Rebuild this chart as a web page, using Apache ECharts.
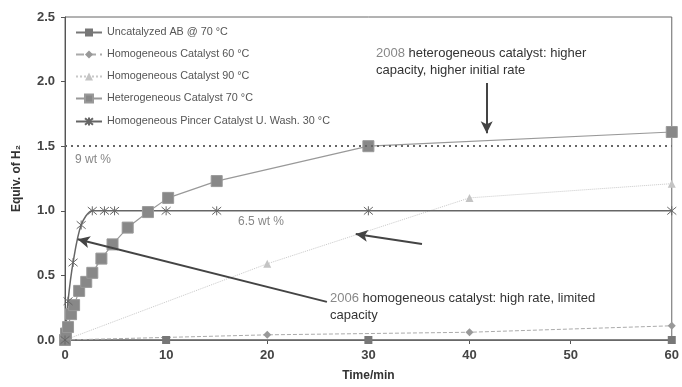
<!DOCTYPE html>
<html>
<head>
<meta charset="utf-8">
<script src="https://cdn.jsdelivr.net/npm/echarts@6/dist/echarts.min.js"></script>
<style>
html, body { margin: 0; padding: 0; background: #fff; }
#chart { width: 682px; height: 387px; }
</style>
</head>
<body>
<div id="chart"></div>
<script>
// values (time in min, equiv. H2)
var uncatalyzed = [[0, 0], [10, 0], [30, 0], [60, 0]];
var homo60 = [[0, 0], [20, 0.04], [40, 0.06], [60, 0.11]];
var homo90 = [[0, 0], [20, 0.59], [40, 1.1], [60, 1.21]];
var hetero70 = [[0, 0], [0.1, 0.05], [0.3, 0.1], [0.6, 0.2], [0.9, 0.27], [1.4, 0.38], [2.1, 0.45],
    [2.7, 0.52], [3.6, 0.63], [4.7, 0.74], [6.2, 0.87], [8.2, 0.99], [10.2, 1.1], [15, 1.23], [30, 1.5], [60, 1.61]];
var pincer30 = [[0, 0], [0.3, 0.3], [0.8, 0.6], [1.6, 0.89], [2.7, 1.0], [3.9, 1.0], [4.9, 1.0],
    [10, 1.0], [15, 1.0], [30, 1.0], [60, 1.0]];
var seriesNames = ['Uncatalyzed AB @ 70 °C', 'Homogeneous Catalyst 60 °C', 'Homogeneous Catalyst 90 °C',
    'Heterogeneous Catalyst 70 °C', 'Homogeneous Pincer Catalyst U. Wash. 30 °C'];
var capacity9 = 1.5;
// annotation arrows, [start, end] in data units
var arrows = [
    [[41.7, 1.99], [41.7, 1.6]],
    [[25.9, 0.295], [1.26, 0.78]],
    [[35.3, 0.743], [28.75, 0.82]]
];

var asterisk = 'path://M0,0L10,10M10,0L0,10M5,-1L5,11';

var dom = document.getElementById('chart');
var myChart = echarts.init(dom);

var arrowData = arrows.map(function (a) {
    return [
        { coord: a[0], symbol: 'none' },
        { coord: a[1], symbol: 'arrow', symbolSize: [9, 12] }
    ];
});

var option = {
    backgroundColor: '#fff',
    animation: false,
    grid: {
        left: 65, right: 9, top: 17, bottom: 44,
        show: true, borderColor: '#666', borderWidth: 1
    },
    legend: {
        orient: 'vertical',
        left: 70, top: 22,
        itemWidth: 26, itemHeight: 10, itemGap: 11,
        textStyle: { fontSize: 10.8, color: '#555', fontFamily: 'Liberation Sans' },
        data: seriesNames
    },
    xAxis: {
        type: 'value', min: 0, max: 60, interval: 10,
        name: 'Time/min', nameLocation: 'middle', nameGap: 30,
        nameTextStyle: { fontWeight: 'bold', fontSize: 12, color: '#333', fontFamily: 'Liberation Sans' },
        axisLine: { lineStyle: { color: '#555' } },
        axisTick: { show: true, length: 4, lineStyle: { color: '#555' } },
        axisLabel: { fontWeight: 'bold', fontSize: 13, color: '#444', fontFamily: 'Liberation Sans', margin: 9 },
        splitLine: { show: false }
    },
    yAxis: {
        type: 'value', min: 0, max: 2.5, interval: 0.5,
        name: 'Equiv. of H₂', nameLocation: 'middle', nameGap: 42,
        nameTextStyle: { fontWeight: 'bold', fontSize: 12, color: '#333', fontFamily: 'Liberation Sans' },
        axisLine: { show: true, lineStyle: { color: '#555' } },
        axisTick: { show: true, length: 4, lineStyle: { color: '#555' } },
        axisLabel: {
            fontWeight: 'bold', fontSize: 13, color: '#444', fontFamily: 'Liberation Sans', margin: 10,
            formatter: function (v) { return v.toFixed(1); }
        },
        splitLine: { show: false }
    },
    series: [
        {
            name: seriesNames[0], type: 'line', data: uncatalyzed,
            symbol: 'rect', symbolSize: 8,
            itemStyle: { color: '#777' },
            lineStyle: { color: '#777', width: 1.5 }
        },
        {
            name: seriesNames[1], type: 'line', data: homo60,
            symbol: 'diamond', symbolSize: 8,
            itemStyle: { color: '#999' },
            lineStyle: { color: '#aaa', width: 1, type: 'dashed' }
        },
        {
            name: seriesNames[2], type: 'line', data: homo90,
            symbol: 'triangle', symbolSize: 8,
            itemStyle: { color: '#c4c4c4' },
            lineStyle: { color: '#c8c8c8', width: 1, type: 'dotted' }
        },
        {
            name: seriesNames[3], type: 'line', data: hetero70,
            symbol: 'rect', symbolSize: 11,
            itemStyle: { color: '#888', borderColor: '#999', borderWidth: 1 },
            lineStyle: { color: '#999', width: 1.2 },
            markLine: {
                silent: true, symbol: 'none',
                lineStyle: { color: '#666', type: [2, 4], width: 2 },
                label: { show: false },
                data: [{ yAxis: capacity9 }]
            }
        },
        {
            name: seriesNames[4], type: 'line', data: pincer30,
            smooth: 0.3,
            symbol: asterisk, symbolSize: 9,
            itemStyle: { color: 'none', borderColor: '#666', borderWidth: 1 },
            lineStyle: { color: '#666', width: 1.5 },
            markLine: {
                silent: true,
                symbol: ['none', 'arrow'],
                lineStyle: { color: '#444', type: 'solid', width: 2 },
                itemStyle: { color: '#444' },
                label: { show: false },
                data: arrowData
            }
        }
    ],
    graphic: [
        {
            type: 'text', left: 75, top: 154,
            style: { text: '9 wt %', fill: '#888', font: '12px "Liberation Sans"' }
        },
        {
            type: 'text', left: 238, top: 216,
            style: { text: '6.5 wt %', fill: '#888', font: '12px "Liberation Sans"' }
        },
        {
            type: 'text', left: 376, top: 45,
            style: {
                text: '{y|2008} heterogeneous catalyst: higher\ncapacity, higher initial rate',
                fill: '#333', font: '13px "Liberation Sans"', lineHeight: 17,
                rich: { y: { fill: '#888', font: '13px "Liberation Sans"' } }
            }
        },
        {
            type: 'text', left: 330, top: 290,
            style: {
                text: '{y|2006} homogeneous catalyst: high rate, limited\ncapacity',
                fill: '#333', font: '13px "Liberation Sans"', lineHeight: 17,
                rich: { y: { fill: '#888', font: '13px "Liberation Sans"' } }
            }
        }
    ]
};

myChart.setOption(option);
</script>
</body>
</html>
